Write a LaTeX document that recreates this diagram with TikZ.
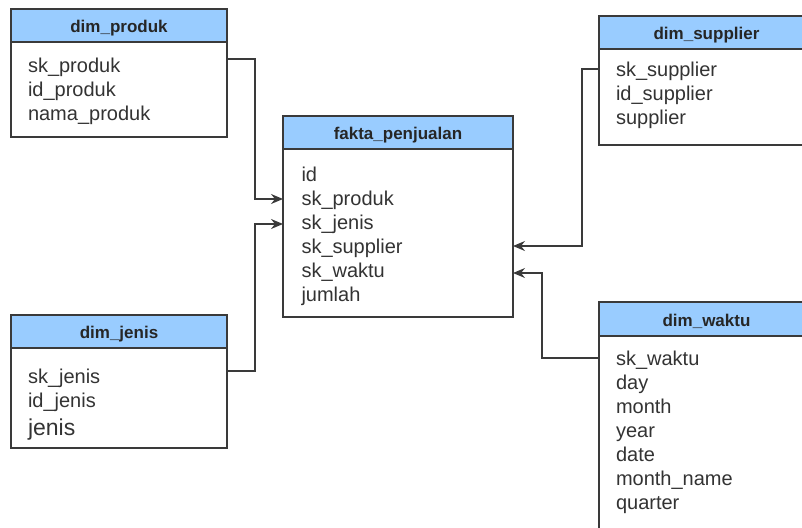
\documentclass[tikz,border=0pt]{standalone}
\usepackage{fontspec}
\setmainfont{Liberation Sans}
\usepackage{xcolor}
\usetikzlibrary{arrows.meta,positioning}

\definecolor{headblue}{HTML}{99CCFF}
\definecolor{garis}{HTML}{3A3A3A}
\definecolor{teks}{HTML}{333333}

\begin{document}
\begin{tikzpicture}[
    x=1pt, y=-1pt,
    judul/.style={rectangle, draw=garis, fill=headblue, line width=1.3pt, outer sep=0pt, minimum height=33pt, anchor=north west, text height=17pt, text depth=3pt, font=\bfseries\fontsize{17}{19}\selectfont, text=black!85},
    isi/.style={rectangle, draw=garis, fill=white, line width=1.3pt, outer sep=0pt, align=left, inner xsep=17pt, font=\fontsize{20}{24}\selectfont, text=teks},
    arrow/.style={-{Stealth[length=12pt,width=10pt,inset=4pt]}, line width=1.3pt, draw=garis}
]
\useasboundingbox (0,0) rectangle (802,527);
\clip (0,0) rectangle (802,527);

% dimension tables
\node[judul, minimum width=216pt] (produk) at (11,9) {dim\_produk};
\node[isi, below=0pt of produk, minimum height=95pt, text width=182pt, text height=18.3pt] (produkisi) {sk\_produk\\id\_produk\\nama\_produk};

\node[judul, minimum width=216pt] (jenis) at (11,315) {dim\_jenis};
\node[isi, below=0pt of jenis, minimum height=100pt, text width=182pt, text height=27.3pt] (jenisisi) {sk\_jenis\\id\_jenis\\[4pt]{\fontsize{23}{24}\selectfont jenis}};

\node[judul, minimum width=215pt] (supplier) at (599,16) {dim\_supplier};
\node[isi, below=0pt of supplier, minimum height=96pt, text width=181pt, text height=10.3pt] (supplierisi) {sk\_supplier\\id\_supplier\\supplier};

\node[judul, minimum width=215pt, minimum height=34pt] (waktu) at (599,302) {dim\_waktu};
\node[isi, below=0pt of waktu, minimum height=210pt, text width=181pt, text depth=166pt] (waktuisi) {sk\_waktu\\day\\month\\year\\date\\month\_name\\quarter};

% fact table
\node[judul, minimum width=230pt] (fakta) at (283,116) {fakta\_penjualan};
\node[isi, below=0pt of fakta, minimum height=168pt, text width=193pt, inner xsep=18.5pt, text height=21.3pt] (faktaisi) {id\\sk\_produk\\sk\_jenis\\sk\_supplier\\sk\_waktu\\jumlah};

% relations
\draw[arrow] ([yshift=-17pt]produkisi.north east) -- ++(28,0) |- ([yshift=-50pt]faktaisi.north west);
\draw[arrow] ([yshift=-23pt]jenisisi.north east) -- ++(28,0) |- ([yshift=-75pt]faktaisi.north west);
\draw[arrow] ([yshift=-20pt]supplierisi.north west) -- ++(-17,0) |- ([yshift=-97pt]faktaisi.north east);
\draw[arrow] ([yshift=-22pt]waktuisi.north west) -- ++(-57,0) |- ([yshift=-124pt]faktaisi.north east);

\end{tikzpicture}
\end{document}
